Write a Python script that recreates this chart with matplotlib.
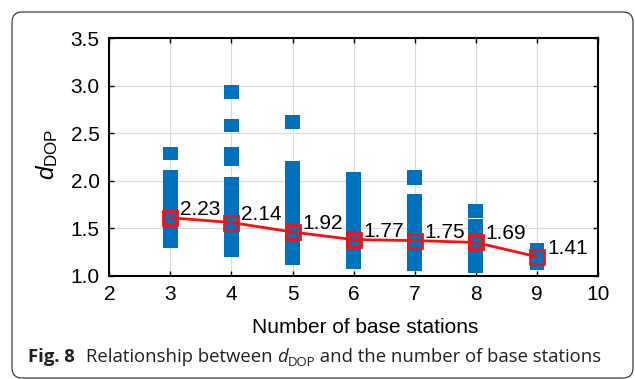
import matplotlib
matplotlib.use("Agg")
import matplotlib.pyplot as plt
from matplotlib.patches import FancyBboxPatch
from matplotlib.transforms import IdentityTransform

plt.rcParams['font.family'] = ['Liberation Sans', 'DejaVu Sans']
plt.rcParams['mathtext.fontset'] = 'custom'
plt.rcParams['mathtext.rm'] = 'Liberation Sans'
plt.rcParams['mathtext.it'] = 'Liberation Sans:italic'
plt.rcParams['mathtext.bf'] = 'Liberation Sans:bold'

# Number of base stations on the x axis
station_counts = [3, 4, 5, 6, 7, 8, 9]

# Runs of d_DOP samples (low edge, high edge) drawn as blue bands
run_x = [3, 3,
         4, 4, 4, 4,
         5, 5,
         6,
         7, 7,
         8, 8,
         9]
run_low = [2.22, 1.29,
           2.86, 2.51, 2.16, 1.20,
           2.54, 1.11,
           1.07,
           1.96, 1.05,
           1.605, 1.03,
           1.06]
run_high = [2.36, 2.11,
            3.01, 2.65, 2.36, 2.04,
            2.69, 2.21,
            2.09,
            2.11, 1.86,
            1.75, 1.598,
            1.34]

# Red trend line and the values printed beside it
trend_dop = [1.61, 1.56, 1.46, 1.38, 1.37, 1.35, 1.20]
trend_labels = ["2.23", "2.14", "1.92", "1.77", "1.75", "1.69", "1.41"]

x_ticks = [2, 3, 4, 5, 6, 7, 8, 9, 10]
y_ticks = [1.0, 1.5, 2.0, 2.5, 3.0, 3.5]
x_label = "Number of base stations"
y_label = r"$d_{\mathrm{DOP}}$"

W, H = 635, 379
fig = plt.figure(figsize=(W / 100, H / 100), dpi=100)
fig.patch.set_facecolor("white")

ax_l, ax_r, ax_t, ax_b = 109.3, 598.0, 38.3, 275.7
ax = fig.add_axes([ax_l / W, 1 - ax_b / H, (ax_r - ax_l) / W, (ax_b - ax_t) / H])

heights = [h - l for h, l in zip(run_high, run_low)]
ax.bar(run_x, heights, bottom=run_low, width=0.24, color="#0072BD",
       linewidth=0, zorder=2)

ax.plot(station_counts, trend_dop, color="#ff0d0d", lw=2.0, marker="s",
        ms=10.2, mfc="none", mec="#ff0d0d", mew=2.0, zorder=3)

for x, y, s in zip(station_counts, trend_dop, trend_labels):
    ax.annotate(s, (x, y), xytext=(10, 3.0), textcoords="offset pixels",
                ha="left", va="baseline", fontsize=15, color="black",
                zorder=4)

ax.set_xlim(2, 10)
ax.set_ylim(1.0, 3.5)
ax.set_xticks(x_ticks)
ax.set_yticks(y_ticks)
ax.set_xticklabels([str(v) for v in x_ticks])
ax.set_yticklabels([f"{v:.1f}" for v in y_ticks])
ax.grid(True, color="#dadada", lw=0.8, zorder=0)
ax.set_axisbelow(True)

for sp in ax.spines.values():
    sp.set_linewidth(1.5)
    sp.set_color("black")
ax.tick_params(direction="in", length=3.6, width=1.0, top=True, right=True,
               labelsize=15, pad=7, colors="black")

ax.set_xlabel(x_label, fontsize=15)
ax.xaxis.set_label_coords((365.5 - ax_l) / (ax_r - ax_l), -0.18)
ax.set_ylabel(y_label, fontsize=17.5)
ax.yaxis.set_label_coords((60 - ax_l) / (ax_r - ax_l), 0.51)

# Rounded frame around figure and caption
frame = FancyBboxPatch((12, 1), 621, 366,
                       boxstyle="round,pad=0,rounding_size=10",
                       transform=IdentityTransform(), fill=False,
                       ec="#3c3c3c", lw=0.9)
fig.add_artist(frame)

# Caption assembled from styled pieces
renderer = fig.canvas.get_renderer()
cap_y = 1 - 362 / H
cap_font = ["Open Sans", "DejaVu Sans"]
cap_size = 13.3
pieces = [
    ("Fig. 8", dict(fontweight="bold", fontsize=cap_size), 0, 11),
    ("Relationship between ", dict(fontsize=cap_size), 0, 0),
    ("d", dict(fontsize=cap_size, fontstyle="italic"), 0, 0),
    ("DOP", dict(fontsize=cap_size * 0.72), -3.5, 0),
    (" and the number of base stations", dict(fontsize=cap_size), 0, 0),
]
x_px = 28.0
for text, style, dy, gap in pieces:
    t = fig.text(x_px / W, cap_y + dy / H, text, family=cap_font,
                 color="#231f20", ha="left", va="baseline", **style)
    bb = t.get_window_extent(renderer=renderer)
    x_px += bb.width + gap

fig.savefig("out.png", dpi=100, facecolor="white")
